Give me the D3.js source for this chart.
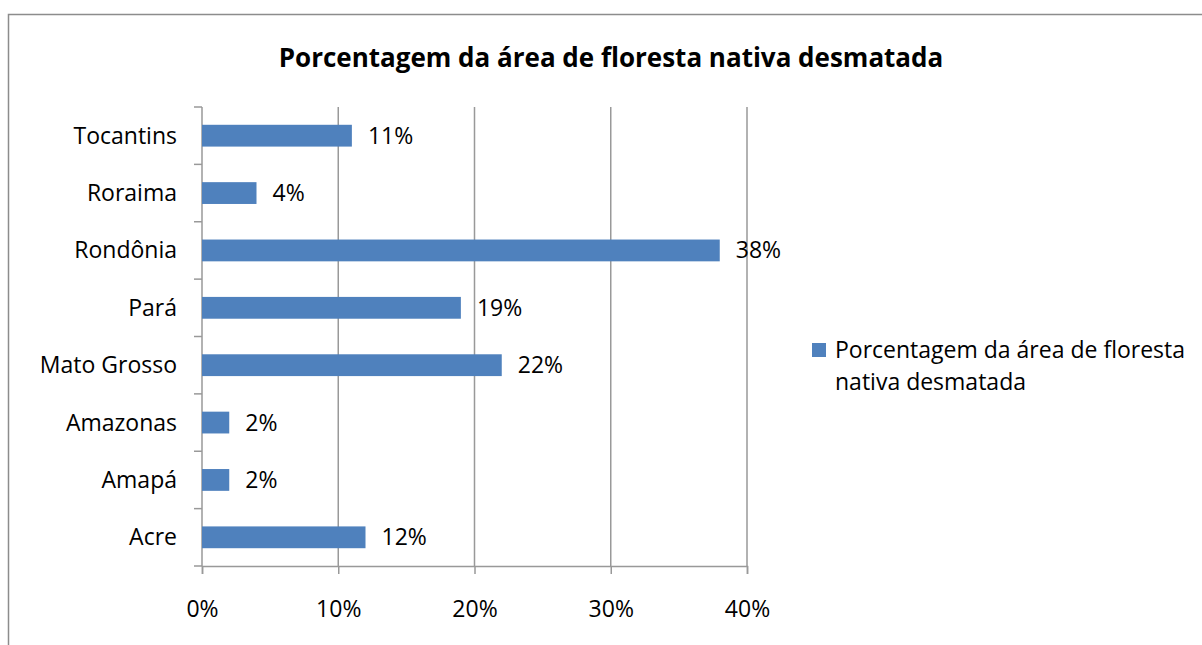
<!doctype html>
<html lang="pt">
<head>
<meta charset="UTF-8">
<title>Porcentagem da área de floresta nativa desmatada</title>
<script src="https://cdn.jsdelivr.net/npm/d3@7"></script>
<style>
  body { margin: 0; background: #fff; }
  svg text { font-family: "Open Sans", "Noto Sans", sans-serif; fill: #000; }
  .grid line { stroke: #999; stroke-width: 1.5; }
</style>
</head>
<body>
<svg width="1202" height="645"></svg>
<script>
// dados do gráfico
var estados = ['Acre', 'Amapá', 'Amazonas', 'Mato Grosso', 'Pará', 'Rondônia', 'Roraima', 'Tocantins'];
var valores = [12, 2, 2, 22, 19, 38, 4, 11];
var ticksX = [0, 10, 20, 30, 40];
var titulo = 'Porcentagem da área de floresta nativa desmatada';
var serie = ['Porcentagem da área de floresta', 'nativa desmatada'];

var svg = d3.select('svg');
var cor = '#4f81bd';

// moldura
svg.append('rect')
  .attr('x', 8.5).attr('y', 14.5)
  .attr('width', 1300).attr('height', 800)
  .attr('fill', 'none').attr('stroke', '#8c8c8c').attr('stroke-width', 1.5);

svg.append('text')
  .attr('x', 611).attr('y', 67)
  .attr('text-anchor', 'middle')
  .attr('font-size', 26).attr('font-weight', 'bold')
  .text(titulo);

var x = d3.scaleLinear().domain([0, 40]).range([202, 747]);
var y = d3.scaleBand().domain(estados.slice().reverse()).range([107, 566]).paddingInner(0.62).paddingOuter(0.31);

// grade vertical
svg.append('g').attr('class', 'grid')
  .selectAll('line').data(ticksX.slice(1)).enter().append('line')
  .attr('x1', function(d) { return x(d); }).attr('x2', function(d) { return x(d); })
  .attr('y1', 107).attr('y2', 566);

// eixo x
var eixoX = svg.append('g')
  .attr('transform', 'translate(0,566)')
  .call(d3.axisBottom(x).tickValues(ticksX).tickSize(8).tickPadding(27)
    .tickFormat(function(d) { return d + '%'; }));
eixoX.select('.domain').attr('stroke', '#999').attr('stroke-width', 1.5);
eixoX.selectAll('line').attr('stroke', '#999').attr('stroke-width', 1.5);
eixoX.selectAll('text').attr('font-size', 23).attr('font-family', '"Open Sans", sans-serif');

// eixo y com marcas entre categorias
var eixoY = svg.append('g').attr('transform', 'translate(202,0)');
eixoY.append('line').attr('y1', 107).attr('y2', 566).attr('stroke', '#999').attr('stroke-width', 1.5);
var passo = (566 - 107) / estados.length;
eixoY.selectAll('.tk').data(d3.range(estados.length + 1)).enter().append('line')
  .attr('x1', -8).attr('x2', 0)
  .attr('y1', function(i) { return 107 + i * passo; })
  .attr('y2', function(i) { return 107 + i * passo; })
  .attr('stroke', '#999').attr('stroke-width', 1.5);

svg.selectAll('.rotulo').data(estados).enter().append('text')
  .attr('x', 177)
  .attr('y', function(d) { return y(d) + y.bandwidth() / 2; })
  .attr('dy', '0.35em')
  .attr('text-anchor', 'end')
  .attr('font-size', 23)
  .text(function(d) { return d; });

// barras
svg.selectAll('.barra').data(estados).enter().append('rect')
  .attr('x', x(0))
  .attr('y', function(d) { return y(d); })
  .attr('width', function(d, i) { return x(valores[i]) - x(0); })
  .attr('height', y.bandwidth())
  .attr('fill', cor);

svg.selectAll('.valor').data(estados).enter().append('text')
  .attr('x', function(d, i) { return x(valores[i]) + 16; })
  .attr('y', function(d) { return y(d) + y.bandwidth() / 2; })
  .attr('dy', '0.35em')
  .attr('font-size', 23)
  .text(function(d, i) { return valores[i] + '%'; });

// legenda
svg.append('rect').attr('x', 812).attr('y', 343).attr('width', 14).attr('height', 14).attr('fill', cor);
svg.selectAll('.leg').data(serie).enter().append('text')
  .attr('x', 835)
  .attr('y', function(d, i) { return 358 + i * 32; })
  .attr('font-size', 23)
  .text(function(d) { return d; });
</script>
</body>
</html>
